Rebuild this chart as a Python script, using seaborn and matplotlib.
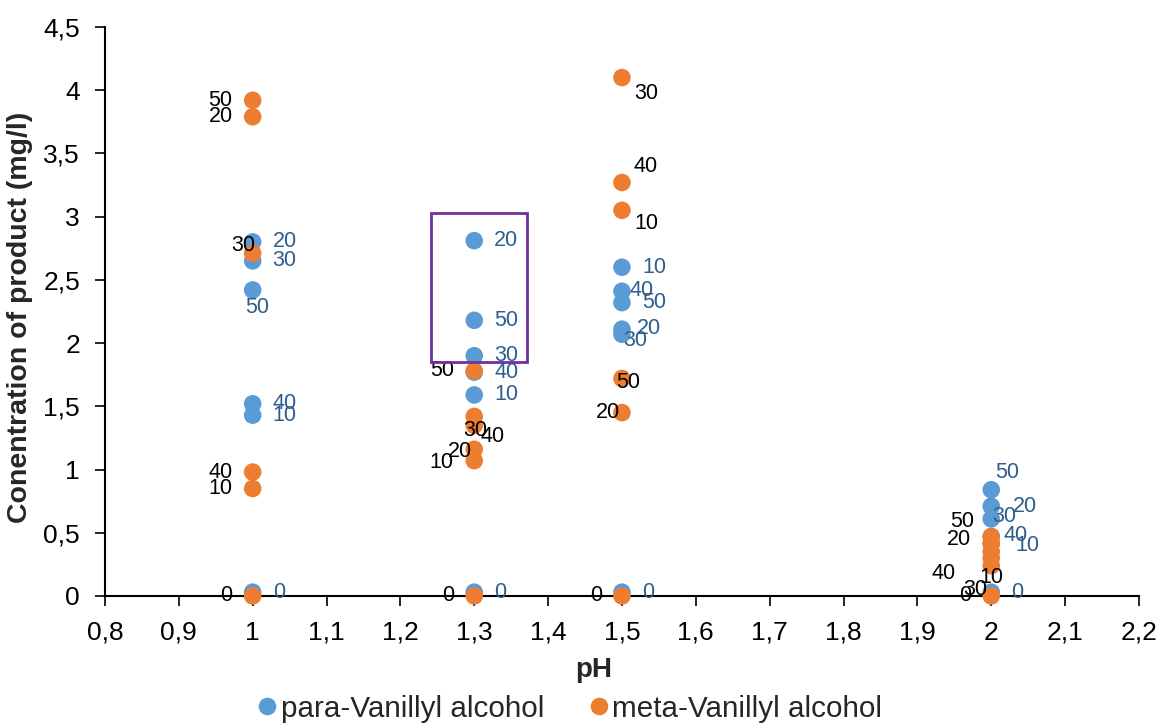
import seaborn as sns
import pandas as pd
import matplotlib.pyplot as plt
from matplotlib.patches import Rectangle
from matplotlib.ticker import FuncFormatter, MultipleLocator

sns.set_theme(style='white')
plt.rcParams['font.family'] = ['Liberation Sans', 'DejaVu Sans']

# reaction time (min) used as point labels
times = [0, 10, 20, 30, 40, 50]
ph_levels = [1.0, 1.3, 1.5, 2.0]

# concentrations (mg/l), ordered as times
para_ph1 = [0.03, 1.43, 2.80, 2.65, 1.52, 2.42]
para_ph13 = [0.03, 1.59, 2.81, 1.90, 1.77, 2.18]
para_ph15 = [0.03, 2.60, 2.11, 2.07, 2.41, 2.32]
para_ph2 = [0.03, 0.41, 0.71, 0.61, 0.47, 0.84]
meta_ph1 = [0.0, 0.85, 3.79, 2.71, 0.98, 3.92]
meta_ph13 = [0.0, 1.07, 1.16, 1.42, 1.35, 1.78]
meta_ph15 = [0.0, 3.05, 1.45, 4.10, 3.27, 1.72]
meta_ph2 = [0.0, 0.30, 0.42, 0.24, 0.35, 0.47]

series_names = ['para-Vanillyl alcohol', 'meta-Vanillyl alcohol']
para_all = [para_ph1, para_ph13, para_ph15, para_ph2]
meta_all = [meta_ph1, meta_ph13, meta_ph15, meta_ph2]

rows = []
for name, block in zip(series_names, [para_all, meta_all]):
    for ph, vals in zip(ph_levels, block):
        for t, v in zip(times, vals):
            rows.append({'pH': ph, 'conc': v, 'time': t, 'series': name})
df = pd.DataFrame(rows)

blue = '#5B9BD5'
orange = '#ED7D31'
label_blue = '#2F5E8C'

# label offsets in pixels (dx, dy, ha) where the default does not fit
default_off = {series_names[0]: (20, 0, 'left'), series_names[1]: (-20, 0, 'right')}
label_off = {
    ('para', 1.0, 50): (5, -18, 'center'),
    ('meta', 1.0, 30): (-9, 8, 'center'),
    ('meta', 1.3, 30): (1, -14, 'center'),
    ('meta', 1.3, 40): (18, -11, 'center'),
    ('meta', 1.3, 20): (-14, -2, 'center'),
    ('meta', 1.3, 10): (-33, -2, 'center'),
    ('meta', 1.5, 30): (24, -16, 'center'),
    ('meta', 1.5, 40): (24, 16, 'center'),
    ('meta', 1.5, 10): (24, -13, 'center'),
    ('meta', 1.5, 50): (6, -4, 'center'),
    ('meta', 1.5, 20): (-14, 0, 'center'),
    ('para', 1.5, 40): (20, 1, 'center'),
    ('para', 1.5, 20): (27, 1, 'center'),
    ('para', 1.5, 30): (13, -6, 'center'),
    ('para', 2.0, 50): (16, 17, 'center'),
    ('para', 2.0, 20): (34, 0, 'center'),
    ('para', 2.0, 30): (13, 2, 'center'),
    ('para', 2.0, 40): (24, 1, 'center'),
    ('para', 2.0, 10): (36, -1, 'center'),
    ('meta', 2.0, 50): (-29, 15, 'center'),
    ('meta', 2.0, 20): (-32, 3, 'center'),
    ('meta', 2.0, 40): (-48, -22, 'center'),
    ('meta', 2.0, 10): (0, -19, 'center'),
    ('meta', 2.0, 30): (-16, -24, 'center'),
}

fig = plt.figure(figsize=(11.61, 7.23), dpi=100)
ax = fig.add_axes([0.0904, 0.1757, 0.8906, 0.787])

sns.scatterplot(data=df, x='pH', y='conc', hue='series', palette=[blue, orange],
                s=160, edgecolor='none', ax=ax, zorder=3, clip_on=False)

for _, r in df.iterrows():
    key = ('para' if r['series'] == series_names[0] else 'meta', r['pH'], r['time'])
    dx, dy, ha = label_off.get(key, default_off[r['series']])
    col = label_blue if key[0] == 'para' else 'black'
    ax.annotate(str(r['time']), xy=(r['pH'], r['conc']), xytext=(dx, dy),
                textcoords='offset pixels', ha=ha, va='center', fontsize=15.5,
                color=col, zorder=4)

# highlight box around the upper para points at pH 1.3
hl = df[(df['series'] == series_names[0]) & (df['pH'] == 1.3) & (df['time'].isin([20, 50, 30]))]
y0 = hl['conc'].min() - 0.05
y1 = hl['conc'].max() + 0.22
ax.add_patch(Rectangle((1.3 - 0.058, y0), 0.13, y1 - y0, fill=False,
                       edgecolor='#7030A0', lw=2, zorder=5))

ax.set_xlim(0.8, 2.2)
ax.set_ylim(0, 4.5)
ax.xaxis.set_major_locator(MultipleLocator(0.1))
ax.yaxis.set_major_locator(MultipleLocator(0.5))
fmt = FuncFormatter(lambda v, p: '{:g}'.format(round(v, 2)).replace('.', ','))
ax.xaxis.set_major_formatter(fmt)
ax.yaxis.set_major_formatter(fmt)
ax.tick_params(axis='both', which='major', labelsize=19, length=7, width=1.2,
               color='black', labelcolor='black', direction='out', bottom=True, left=True)
ax.tick_params(axis='x', pad=11)
ax.tick_params(axis='y', pad=11)
for s in ['top', 'right']:
    ax.spines[s].set_visible(False)
for s in ['left', 'bottom']:
    ax.spines[s].set_color('black')
    ax.spines[s].set_linewidth(1.5)
ax.set_xlabel('pH', fontsize=20, fontweight='bold')
ax.set_ylabel('Conentration of product (mg/l)', fontsize=20.5, fontweight='bold')
ax.xaxis.set_label_coords(0.4725, -0.108)
ax.yaxis.set_label_coords(-0.0696, 0.49)

handles, labels = ax.get_legend_handles_labels()
ax.get_legend().remove()
fig.legend(handles, labels, loc='center', bbox_to_anchor=(0.4905, 0.02), ncol=2,
           frameon=False, fontsize=21.3, handlelength=0.7, handletextpad=0.1,
           columnspacing=1.5, markerscale=1.0)

fig.savefig('out.png', dpi=100)
